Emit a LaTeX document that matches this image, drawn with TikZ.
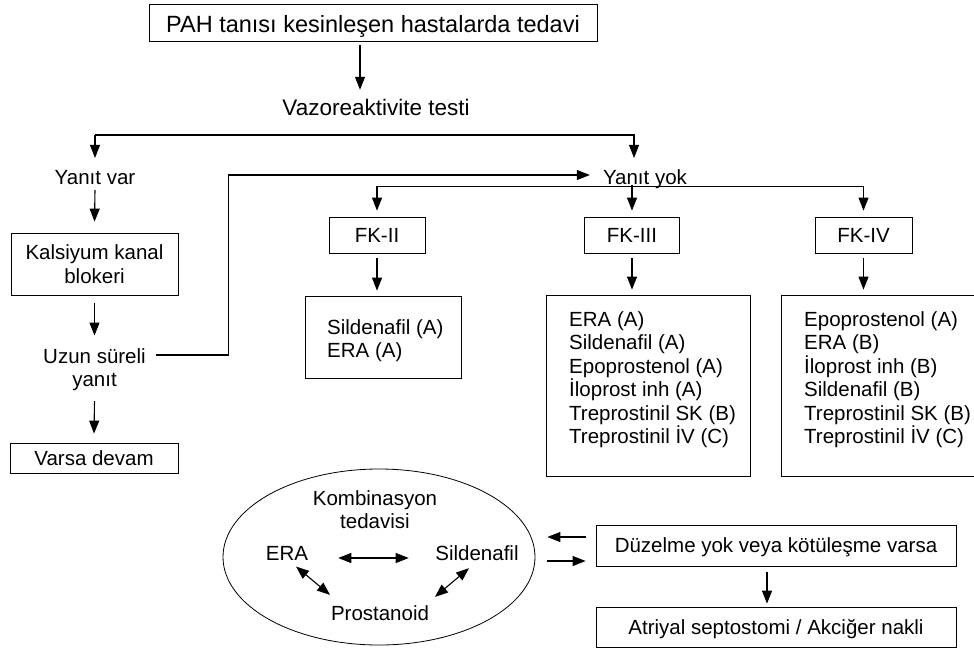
\documentclass[tikz,border=0pt]{standalone}
\usepackage{fontspec}
\setmainfont{Liberation Sans}
\usetikzlibrary{arrows.meta,calc,shapes.geometric}
\newcommand\fsz{\fontsize{20.5}{23.5}\selectfont}
\begin{document}
\begin{tikzpicture}[x=1pt,y=-1pt,
  box/.style={draw, line width=0.8pt, inner sep=0pt, font=\fsz},
  onel/.style={text height=14.7pt, text depth=0pt},
  lab/.style={inner sep=0pt, font=\fsz, text height=14.7pt, text depth=0pt},
  ml/.style={inner sep=0pt, font=\fsz, align=left},
  arr/.style={line width=1.1pt, -{Triangle[length=13pt,width=10pt]}},
  arrtwo/.style={line width=1.1pt, {Triangle[length=13pt,width=10pt]}-{Triangle[length=13pt,width=10pt]}},
  darr/.style={line width=1.1pt, {Triangle[length=13pt,width=10pt]}-{Triangle[length=13pt,width=10pt]}},
  sarr/.style={line width=1.1pt, -{Triangle[length=13pt,width=10pt]}},
  ln/.style={line width=1.1pt}]
\useasboundingbox (0,0) rectangle (974,648);
\clip (0,0) rectangle (974,648);

% top
\node[box, minimum width=448pt, minimum height=37pt, font=\fontsize{23.5}{27}\selectfont, text height=19.8pt, text depth=0pt] (title) at (373,22.5) {PAH tanısı kesinleşen hastalarda tedavi};
\node[lab, font=\fontsize{22.5}{26}\selectfont, text height=16.1pt] (vazo) at (376,107) {Vazoreaktivite testi};
\draw[arr] ([xshift=-13pt,yshift=-4pt]title.south) -- ([xshift=-16pt,yshift=9pt]vazo.north);

\node[lab] (yvar) at (95,177) {Yanıt var};
\node[lab] (yyok) at (645,177) {Yanıt yok};
\coordinate (bl) at (95,135);
\coordinate (br) at (634,135);
\draw[arr] (bl) -- ([yshift=11.5pt]yvar.north);
\draw[arr] (bl) -- (br) -- ([xshift=-11pt,yshift=11.5pt]yyok.north);

% left column
\node[box, align=center, minimum width=167pt, minimum height=62pt] (kal) at (94.5,264) {Kalsiyum kanal\\blokeri};
\draw[arr] ([yshift=-5.6pt]yvar.south) -- ([yshift=11pt]kal.north);
\node[ml, align=center] (uzun) at (94.5,369.5) {Uzun süreli\\yanıt};
\draw[arr] ([yshift=-8pt]kal.south) -- ([yshift=12.5pt]uzun.north);
\node[box, onel, minimum width=168pt, minimum height=30pt] (varsa) at (94,458) {Varsa devam};
\draw[arr] ([yshift=-10pt]uzun.south) -- ([yshift=9pt]varsa.north);
\draw[arr] ($(uzun.north east)+(10,7)$) -| ($(yyok.west)+(-374,-2)$) -- ($(yyok.west)+(-13,-2)$);

% FK classes
\node[box, onel, minimum width=96pt, minimum height=36pt] (fk2) at (377,235) {FK-II};
\node[box, onel, minimum width=95pt, minimum height=36pt] (fk3) at (632,235) {FK-III};
\node[box, onel, minimum width=97pt, minimum height=36pt] (fk4) at (863.5,235) {FK-IV};
\draw[arr] (yyok.south -| fk3.north) -- ([yshift=6pt]fk3.north);
\draw[arrtwo] ([yshift=6pt]fk2.north) -- ([yshift=30pt]fk2.north) -- ([yshift=30pt]fk4.north) -- ([yshift=6pt]fk4.north);

% drug boxes
\node[box, minimum width=156pt, minimum height=82pt] (d2) at (383,337) {};
\node[ml, anchor=north west] (d2t) at (327,319.3) {Sildenafil (A)\\ERA (A)};
\node[box, minimum width=204pt, minimum height=181pt] (d3) at (648,385.5) {};
\node[ml, anchor=north west] (d3t) at (569,311.3) {ERA (A)\\Sildenafil (A)\\Epoprostenol (A)\\İloprost inh (A)\\Treprostinil SK (B)\\Treprostinil İV (C)};
\node[box, minimum width=229pt, minimum height=181pt] (d4) at (895.5,385.5) {};
\node[ml, anchor=north west] (d4t) at (804,311.3) {Epoprostenol (A)\\ERA (B)\\İloprost inh (B)\\Sildenafil (B)\\Treprostinil SK (B)\\Treprostinil İV (C)};
\draw[arr, shorten >=5pt] ([yshift=-5pt]fk2.south) -- (fk2.south |- d2.north);
\draw[arr, shorten >=5pt] ([yshift=-5pt]fk3.south) -- (fk3.south |- d3.north);
\draw[arr, shorten >=5pt] ([yshift=-5pt]fk4.south) -- (fk4.south |- d4.north);

% combination ellipse
\node[ellipse, draw, line width=0.8pt, minimum width=312pt, minimum height=176pt, inner sep=0pt] (ell) at (379,557) {};
\node[ml, align=center, anchor=north] (komb) at (375,490.3) {Kombinasyon\\tedavisi};
\node[lab] (era) at (287,553) {ERA};
\node[lab] (sild) at (477,553) {Sildenafil};
\node[lab] (pros) at (380,613) {Prostanoid};
\draw[darr] ([xshift=30pt,yshift=-5pt]era.east) -- ([xshift=-26.5pt,yshift=-5pt]sild.west);
\draw[darr] ([xshift=9pt,yshift=-6pt]era.south) -- ([xshift=-50pt,yshift=10.6pt]pros.north);
\draw[darr] ([xshift=-8pt,yshift=-7.6pt]sild.south) -- ([xshift=55pt,yshift=8.6pt]pros.north);

% right bottom
\node[box, onel, minimum width=360pt, minimum height=41pt] (duz) at (776,545.5) {Düzelme yok veya kötüleşme varsa};
\node[box, onel, minimum width=360pt, minimum height=40pt] (atr) at (776,627) {Atriyal septostomi / Akciğer nakli};
\draw[arr] ([xshift=-9pt,yshift=-6pt]duz.south) -- ([xshift=-9pt,yshift=3pt]atr.north);
\draw[sarr] ([xshift=-10pt,yshift=8.5pt]duz.west) -- ([xshift=12pt,yshift=20pt]ell.east);
\draw[sarr] ([xshift=12pt,yshift=-4pt]ell.east) -- ([xshift=-10pt,yshift=-15.5pt]duz.west);
\end{tikzpicture}
\end{document}
